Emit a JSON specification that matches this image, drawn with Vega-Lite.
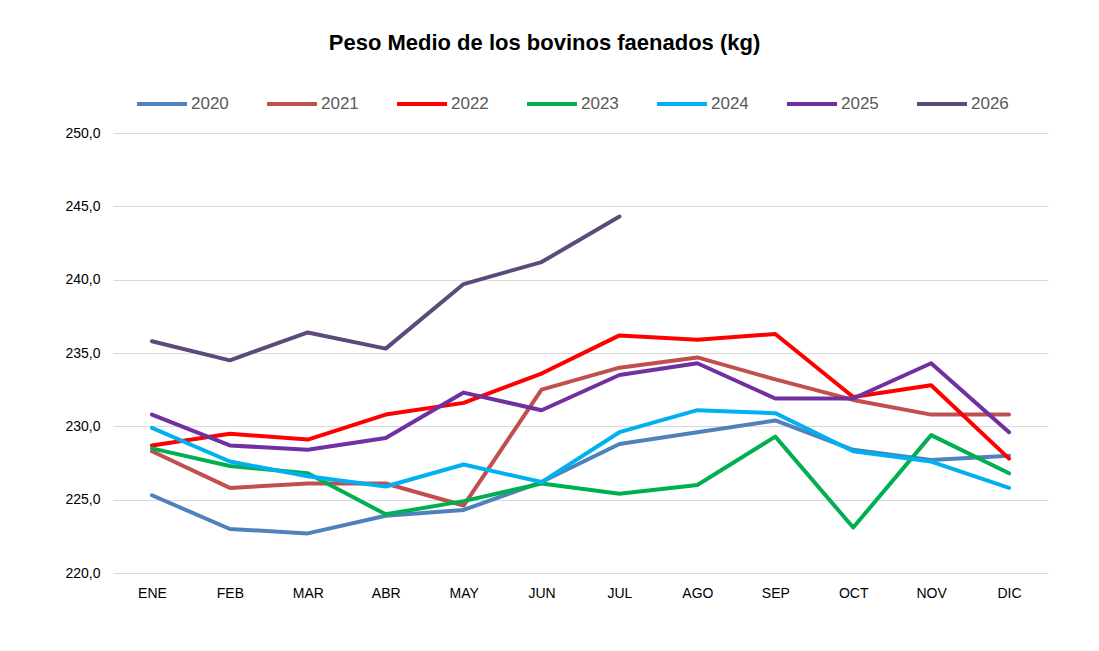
{
  "$schema": "https://vega.github.io/schema/vega-lite/v6.json",
  "width": 935,
  "height": 440,
  "autosize": {"type": "none"},
  "padding": {"left": 113, "top": 133, "right": 51, "bottom": 78},
  "background": "white",
  "title": {
    "text": "Peso Medio de los bovinos faenados (kg)",
    "font": "Liberation Sans",
    "fontSize": 22,
    "fontWeight": "bold",
    "color": "#000000",
    "anchor": "middle",
    "frame": "bounds",
    "offset": 22,
    "dx": -12
  },
  "data": {
    "values": [
      {"mes": "ENE", "anio": "2020", "peso": 225.3},
      {"mes": "FEB", "anio": "2020", "peso": 223.0},
      {"mes": "MAR", "anio": "2020", "peso": 222.7},
      {"mes": "ABR", "anio": "2020", "peso": 223.9},
      {"mes": "MAY", "anio": "2020", "peso": 224.3},
      {"mes": "JUN", "anio": "2020", "peso": 226.2},
      {"mes": "JUL", "anio": "2020", "peso": 228.8},
      {"mes": "AGO", "anio": "2020", "peso": 229.6},
      {"mes": "SEP", "anio": "2020", "peso": 230.4},
      {"mes": "OCT", "anio": "2020", "peso": 228.4},
      {"mes": "NOV", "anio": "2020", "peso": 227.7},
      {"mes": "DIC", "anio": "2020", "peso": 228.0},
      {"mes": "ENE", "anio": "2021", "peso": 228.3},
      {"mes": "FEB", "anio": "2021", "peso": 225.8},
      {"mes": "MAR", "anio": "2021", "peso": 226.1},
      {"mes": "ABR", "anio": "2021", "peso": 226.1},
      {"mes": "MAY", "anio": "2021", "peso": 224.6},
      {"mes": "JUN", "anio": "2021", "peso": 232.5},
      {"mes": "JUL", "anio": "2021", "peso": 234.0},
      {"mes": "AGO", "anio": "2021", "peso": 234.7},
      {"mes": "SEP", "anio": "2021", "peso": 233.2},
      {"mes": "OCT", "anio": "2021", "peso": 231.8},
      {"mes": "NOV", "anio": "2021", "peso": 230.8},
      {"mes": "DIC", "anio": "2021", "peso": 230.8},
      {"mes": "ENE", "anio": "2022", "peso": 228.7},
      {"mes": "FEB", "anio": "2022", "peso": 229.5},
      {"mes": "MAR", "anio": "2022", "peso": 229.1},
      {"mes": "ABR", "anio": "2022", "peso": 230.8},
      {"mes": "MAY", "anio": "2022", "peso": 231.6},
      {"mes": "JUN", "anio": "2022", "peso": 233.6},
      {"mes": "JUL", "anio": "2022", "peso": 236.2},
      {"mes": "AGO", "anio": "2022", "peso": 235.9},
      {"mes": "SEP", "anio": "2022", "peso": 236.3},
      {"mes": "OCT", "anio": "2022", "peso": 232.0},
      {"mes": "NOV", "anio": "2022", "peso": 232.8},
      {"mes": "DIC", "anio": "2022", "peso": 227.8},
      {"mes": "ENE", "anio": "2023", "peso": 228.5},
      {"mes": "FEB", "anio": "2023", "peso": 227.3},
      {"mes": "MAR", "anio": "2023", "peso": 226.8},
      {"mes": "ABR", "anio": "2023", "peso": 224.0},
      {"mes": "MAY", "anio": "2023", "peso": 224.9},
      {"mes": "JUN", "anio": "2023", "peso": 226.1},
      {"mes": "JUL", "anio": "2023", "peso": 225.4},
      {"mes": "AGO", "anio": "2023", "peso": 226.0},
      {"mes": "SEP", "anio": "2023", "peso": 229.3},
      {"mes": "OCT", "anio": "2023", "peso": 223.1},
      {"mes": "NOV", "anio": "2023", "peso": 229.4},
      {"mes": "DIC", "anio": "2023", "peso": 226.8},
      {"mes": "ENE", "anio": "2024", "peso": 229.9},
      {"mes": "FEB", "anio": "2024", "peso": 227.6},
      {"mes": "MAR", "anio": "2024", "peso": 226.6},
      {"mes": "ABR", "anio": "2024", "peso": 225.9},
      {"mes": "MAY", "anio": "2024", "peso": 227.4},
      {"mes": "JUN", "anio": "2024", "peso": 226.2},
      {"mes": "JUL", "anio": "2024", "peso": 229.6},
      {"mes": "AGO", "anio": "2024", "peso": 231.1},
      {"mes": "SEP", "anio": "2024", "peso": 230.9},
      {"mes": "OCT", "anio": "2024", "peso": 228.3},
      {"mes": "NOV", "anio": "2024", "peso": 227.6},
      {"mes": "DIC", "anio": "2024", "peso": 225.8},
      {"mes": "ENE", "anio": "2025", "peso": 230.8},
      {"mes": "FEB", "anio": "2025", "peso": 228.7},
      {"mes": "MAR", "anio": "2025", "peso": 228.4},
      {"mes": "ABR", "anio": "2025", "peso": 229.2},
      {"mes": "MAY", "anio": "2025", "peso": 232.3},
      {"mes": "JUN", "anio": "2025", "peso": 231.1},
      {"mes": "JUL", "anio": "2025", "peso": 233.5},
      {"mes": "AGO", "anio": "2025", "peso": 234.3},
      {"mes": "SEP", "anio": "2025", "peso": 231.9},
      {"mes": "OCT", "anio": "2025", "peso": 231.9},
      {"mes": "NOV", "anio": "2025", "peso": 234.3},
      {"mes": "DIC", "anio": "2025", "peso": 229.6},
      {"mes": "ENE", "anio": "2026", "peso": 235.8},
      {"mes": "FEB", "anio": "2026", "peso": 234.5},
      {"mes": "MAR", "anio": "2026", "peso": 236.4},
      {"mes": "ABR", "anio": "2026", "peso": 235.3},
      {"mes": "MAY", "anio": "2026", "peso": 239.7},
      {"mes": "JUN", "anio": "2026", "peso": 241.2},
      {"mes": "JUL", "anio": "2026", "peso": 244.3}
    ]
  },
  "mark": {"type": "line", "strokeCap": "round", "strokeJoin": "round"},
  "encoding": {
    "x": {
      "field": "mes",
      "type": "ordinal",
      "sort": ["ENE", "FEB", "MAR", "ABR", "MAY", "JUN", "JUL", "AGO", "SEP", "OCT", "NOV", "DIC"],
      "scale": {"type": "point", "padding": 0.5},
      "axis": {
        "title": null,
        "labelAngle": 0,
        "labelFont": "Liberation Sans",
        "labelFontSize": 14,
        "labelColor": "#000000",
        "labelPadding": 13,
        "ticks": false,
        "domain": false,
        "grid": false
      }
    },
    "y": {
      "field": "peso",
      "type": "quantitative",
      "scale": {"domain": [220, 250], "zero": false, "nice": false},
      "axis": {
        "title": null,
        "values": [220, 225, 230, 235, 240, 245, 250],
        "labelExpr": "replace(format(datum.value, '.1f'), '.', ',')",
        "labelFont": "Liberation Sans",
        "labelFontSize": 14,
        "labelColor": "#000000",
        "labelPadding": 13,
        "ticks": false,
        "domain": false,
        "grid": true,
        "gridColor": "#d9d9d9",
        "gridWidth": 1
      }
    },
    "color": {
      "field": "anio",
      "type": "nominal",
      "scale": {
        "domain": ["2020", "2021", "2022", "2023", "2024", "2025", "2026"],
        "range": ["#4f81bd", "#c0504d", "#ff0000", "#00b050", "#00b0f0", "#7030a0", "#5b4a7a"]
      },
      "legend": {
        "title": null,
        "orient": "none",
        "legendX": 22,
        "legendY": -56,
        "direction": "horizontal",
        "columns": 7,
        "symbolType": "stroke",
        "symbolSize": 2500,
        "symbolStrokeWidth": 5,
        "labelFont": "Liberation Sans",
        "labelFontSize": 17,
        "labelColor": "#595959",
        "labelOffset": 2,
        "columnPadding": 30
      }
    },
    "strokeWidth": {
      "field": "anio",
      "type": "nominal",
      "scale": {
        "domain": ["2020", "2021", "2022", "2023", "2024", "2025", "2026"],
        "range": [4, 4, 6, 4.5, 4.5, 4.5, 4.5]
      },
      "legend": null
    }
  },
  "config": {"view": {"stroke": null}}
}
